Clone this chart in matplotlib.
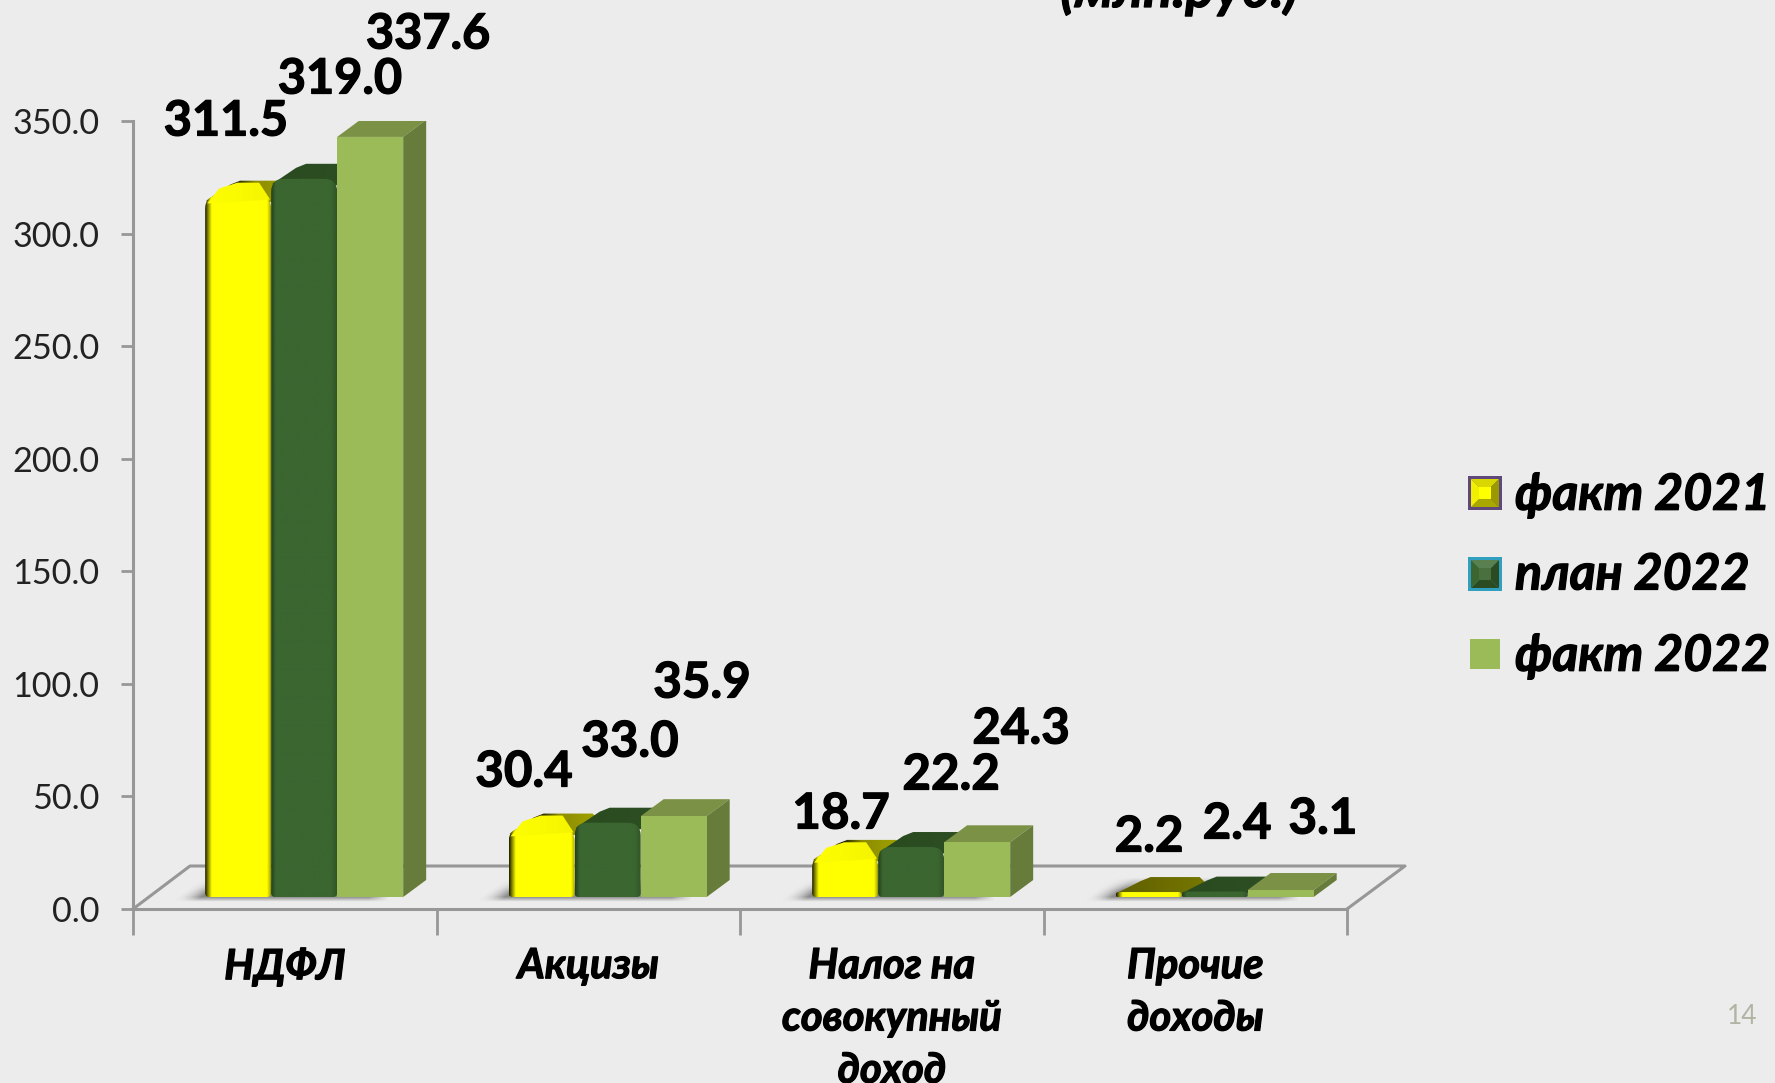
import numpy as np
import matplotlib
matplotlib.use("Agg")
import matplotlib.pyplot as plt
import matplotlib.patheffects as pe
from matplotlib.path import Path
from matplotlib.patches import PathPatch, Polygon
from matplotlib.transforms import IdentityTransform
from matplotlib.colors import to_rgb

W, H = 1775, 1083

# datos
categorias = ["НДФЛ", "Акцизы", "Налог на\nсовокупный\nдоход", "Прочие\nдоходы"]
series = ["факт 2021", "план 2022", "факт 2022"]
fact_2021 = [311.5, 30.4, 18.7, 2.2]
plan_2022 = [319.0, 33.0, 22.2, 2.4]
fact_2022 = [337.6, 35.9, 24.3, 3.1]
y_ticks = [0, 50, 100, 150, 200, 250, 300, 350]

BG = "#ececec"
GRIS = "#979797"
FONT = ["Lato", "Open Sans", "DejaVu Sans"]
plt.rcParams["font.family"] = FONT

# un poco mas de grosor, la letra original es mas pesada
grueso = [pe.withStroke(linewidth=0.9, foreground="black")]

fig = plt.figure(figsize=(W / 100, H / 100), dpi=100, facecolor=BG)
# eje: x 133..1347 px, y 909..121 px (desde arriba)
ax = fig.add_axes([133 / W, (H - 909) / H, (1347 - 133) / W, (909 - 121) / H])
ax.set_facecolor("none")
ax.set_xlim(0, 4)
ax.set_ylim(0, 350)
ax.set_autoscale_on(False)
for s in ["top", "right"]:
    ax.spines[s].set_visible(False)
for s in ["left", "bottom"]:
    ax.spines[s].set_color(GRIS)
    ax.spines[s].set_linewidth(2.2)
    ax.spines[s].set_zorder(1)

ax.set_yticks(y_ticks)
ax.set_yticklabels([f"{v:.1f}" for v in y_ticks], fontsize=24.6, color="#222222")
ax.tick_params(axis="y", length=8.6, width=2, color=GRIS, pad=15.5)
ax.set_xticks(range(5))
ax.set_xticklabels([])
ax.tick_params(axis="x", which="major", length=19, width=2, color=GRIS, top=False)
ax.set_xticks([i + 0.5 for i in range(4)], minor=True)
ax.set_xticklabels(categorias, minor=True, fontsize=30, fontweight="bold",
                   fontstyle="italic", color="black", linespacing=1.46)
ax.tick_params(axis="x", which="minor", length=0, pad=27.5)
for t in ax.get_xticklabels(minor=True):
    t.set_path_effects(grueso)

ident = IdentityTransform()


def to_px(x, y):
    return ax.transData.transform((x, y))


# piso del grafico en perspectiva
p0 = to_px(0, 0)
p1 = to_px(4, 0)
piso = np.array([p0, p0 + (57, 43), p1 + (58, 43), p1])
ax.add_line(plt.Line2D(piso[:, 0], piso[:, 1], transform=ident, color=GRIS, lw=2.2,
                       zorder=1, clip_on=False))


def rounded_path(x0, x1, y0, y1, rt, rb):
    verts = [(x0 + rb, y0), (x1 - rb, y0), (x1, y0), (x1, y0 + rb), (x1, y1 - rt),
             (x1, y1), (x1 - rt, y1), (x0 + rt, y1), (x0, y1), (x0, y1 - rt),
             (x0, y0 + rb), (x0, y0), (x0 + rb, y0), (x0 + rb, y0)]
    codes = [Path.MOVETO, Path.LINETO, Path.CURVE3, Path.CURVE3, Path.LINETO,
             Path.CURVE3, Path.CURVE3, Path.LINETO, Path.CURVE3, Path.CURVE3,
             Path.LINETO, Path.CURVE3, Path.CURVE3, Path.CLOSEPOLY]
    return Path(verts, codes)


def gradient_fill(patch, x0, x1, y0, y1, stops, z):
    # relleno con degradado recortado a la forma
    pos = np.linspace(0, 1, 128)
    ss = [s[0] for s in stops]
    cols = np.array([to_rgb(s[1]) for s in stops])
    rgb = np.stack([np.interp(pos, ss, cols[:, k]) for k in range(3)], axis=1)
    im = ax.imshow(rgb[None, :, :], extent=(x0, x1, y0, y1), origin="lower", transform=ident,
                   aspect="auto", zorder=z, interpolation="bilinear")
    patch.set_transform(ident)
    patch.set_facecolor("none")
    patch.set_edgecolor("none")
    ax.add_patch(patch)
    im.set_clip_path(patch)


def shadow(x0, x1, y_base):
    # sombra difusa sobre el piso
    xs = np.arange(x0 - 40, x1 + 1)
    ys = np.arange(y_base - 8, y_base + 24)
    X, Y = np.meshgrid(xs, ys)
    u = np.clip((X - (x0 - 30 + (Y - y_base) * 1.3)) / 26, 0, 1)
    v = np.clip((Y - (y_base - 5)) / 5, 0, 1) * np.clip((y_base + 20 - Y) / 14, 0, 1)
    w = np.clip((x1 - X) / 20, 0, 1)
    rgba = np.zeros(X.shape + (4,))
    rgba[..., :3] = 0.42
    rgba[..., 3] = 0.75 * u ** 2 * v * w
    ax.imshow(rgba, extent=(xs[0], xs[-1], ys[0], ys[-1]), origin="lower", transform=ident,
              aspect="auto", zorder=1.5, interpolation="bilinear")


DX, DY = 16, 12    # frente de la barra sobre el piso
SX, SY = 23, 17    # profundidad de la barra
GROUP_OFF = 0.185
BAR_W = 0.2175

amarillo = [(0, "#1e1e00"), (0.04, "#808000"), (0.1, "#ffff00"), (0.93, "#ffff00"), (0.98, "#b0b000"), (1, "#5c5c00")]
oscuro = [(0, "#24401c"), (0.07, "#3b6630"), (0.9, "#3b6630"), (1, "#2f5226")]


def rounded_bar(x0, x1, base, top, front, top_stops, bevel_stops, z):
    h = top - base
    rt = min(13, h * 0.55)
    rb = min(4, h * 0.4)
    back = top + SY - 2
    # cara superior
    tp = Polygon([(x0 + 1, top - rt * 0.4), (x0 + SX + 2, back - 4), (x0 + SX + 12, back),
                  (x1 + SX - 5, back), (x1 + SX, back - 5), (x1 + SX, back - 8), (x1 + 2, top - rt * 0.5)],
                 closed=True)
    gradient_fill(tp, x0, x1 + SX + 1, top - rt, back + 1, top_stops, z)
    # frente
    fr = PathPatch(rounded_path(x0, x1, base, top, rt, rb))
    gradient_fill(fr, x0, x1, base, top, front, z + 0.1)
    # bisel que sube sobre la cara superior (solo barra amarilla)
    if bevel_stops is not None and h > 10:
        bev = min(13, h * 0.3)
        bv = Polygon([(x0 + 2, top - rt * 0.6), (x0 + 14, top + bev * 0.55), (x0 + 32, top + bev),
                      (x1 - 12, top + bev), (x1 - 1, top - rt * 0.3)], closed=True)
        gradient_fill(bv, x0, x1, top - rt, top + bev + 1, bevel_stops, z + 0.2)


for i in range(len(categorias)):
    x0 = to_px(i + GROUP_OFF, 0)[0] + DX
    x1 = to_px(i + GROUP_OFF + BAR_W, 0)[0] + DX
    x2 = to_px(i + GROUP_OFF + 2 * BAR_W, 0)[0] + DX
    x3 = to_px(i + GROUP_OFF + 3 * BAR_W, 0)[0] + DX
    base = p0[1] + DY
    shadow(x0, x3 - 15, base)

    t1 = to_px(0, fact_2021[i])[1] + DY
    if t1 - base > 10:
        cara = [(0, "#111100"), (0.32, "#111100"), (0.55, "#8c8c00"), (1, "#a3a300")]
    else:
        cara = [(0, "#5f5f00"), (1, "#777700")]
    rounded_bar(x0, x1, base, t1, amarillo, cara, [(0, "#ffff00"), (1, "#f4f400")], 3)

    t2 = to_px(0, plan_2022[i])[1] + DY
    rounded_bar(x1, x2, base, t2, oscuro,
                [(0, "#2a4a20"), (1, "#2d4f23")], None, 4)

    # barra plana de 2022
    t3 = to_px(0, fact_2022[i])[1] + DY
    ax.add_patch(Polygon([(x2, t3), (x2 + SX, t3 + SY), (x3 + SX, t3 + SY), (x3, t3)],
                         closed=True, transform=ident, facecolor="#7b9146", edgecolor="none", zorder=5))
    ax.add_patch(Polygon([(x3, base), (x3 + SX, base + SY), (x3 + SX, t3 + SY), (x3, t3)],
                         closed=True, transform=ident, facecolor="#677c3a", edgecolor="none", zorder=5))
    ax.add_patch(Polygon([(x2, base), (x3, base), (x3, t3), (x2, t3)],
                         closed=True, transform=ident, facecolor="#9bbb59", edgecolor="none", zorder=5.1))

# etiquetas de valores, colocadas a mano como en la imagen
label_pos = [
    [(226, 121), (340, 79), (428, 34)],
    [(524, 772), (630, 742), (702, 683)],
    [(841, 814), (951, 775), (1021, 729)],
    [(1149, 837), (1237, 824), (1323, 819)],
]
valores = [fact_2021, plan_2022, fact_2022]
for i in range(len(categorias)):
    for j, serie in enumerate(valores):
        lx, ly = label_pos[i][j]
        fig.text(lx / W, 1 - ly / H, f"{serie[i]:.1f}", fontsize=35 if i == 0 else 35.5,
                 fontweight="bold", ha="center", va="center", color="black", path_effects=grueso)

# leyenda con marcadores en bisel
leg_y = [495, 575, 656]
leg_txt_kw = dict(fontsize=36, fontweight="bold", fontstyle="italic", ha="left",
                  va="center", color="black", path_effects=grueso)
for label, ly in zip(series, leg_y):
    fig.text(1515 / W, 1 - ly / H, label, **leg_txt_kw)


def bevel_marker(cx, cy, border, cols, centro):
    x0, x1 = cx - 17, cx + 17
    y0, y1 = H - cy - 17, H - cy + 17
    ax.add_patch(Polygon([(x0, y0), (x1, y0), (x1, y1), (x0, y1)], closed=True, transform=ident,
                         facecolor=border, edgecolor="none", zorder=6, clip_on=False))
    a0, a1, b0, b1 = x0 + 3, x1 - 3, y0 + 3, y1 - 3
    m = ((a0 + a1) / 2, (b0 + b1) / 2)
    tris = [[(a0, b1), (a1, b1), m], [(a1, b1), (a1, b0), m], [(a1, b0), (a0, b0), m], [(a0, b0), (a0, b1), m]]
    for tri, c in zip(tris, cols):
        ax.add_patch(Polygon(tri, closed=True, transform=ident, facecolor=c, edgecolor="none",
                             zorder=6.1, clip_on=False))
    ax.add_patch(Polygon([(x0 + 11, y0 + 11), (x1 - 11, y0 + 11), (x1 - 11, y1 - 11), (x0 + 11, y1 - 11)],
                         closed=True, transform=ident, facecolor=centro, edgecolor="none",
                         zorder=6.2, clip_on=False))


bevel_marker(1485, 493, "#5f497a", ["#d8d800", "#9a9a00", "#a8a800", "#f0f000"], "#ffff00")
bevel_marker(1485, 574, "#31a0c0", ["#5a8050", "#2b4b23", "#2b4b23", "#3b6630"], "#4a7040")
ax.add_patch(Polygon([(1470, H - 639), (1500, H - 639), (1500, H - 669), (1470, H - 669)], closed=True,
                     transform=ident, facecolor="#9bbb59", edgecolor="none", zorder=6, clip_on=False))

# titulo cortado arriba y numero de pagina
fig.text(1179 / W, 1 - 7 / H, "(млн.руб.)", fontsize=39, fontweight="bold", fontstyle="italic",
         ha="center", va="baseline", color="black", path_effects=grueso)
fig.text(1727 / W, 1 - 1017 / H, "14", fontsize=19, ha="left", va="center", color="#b3b3a3")

fig.savefig("out.png", dpi=100, facecolor=BG)
